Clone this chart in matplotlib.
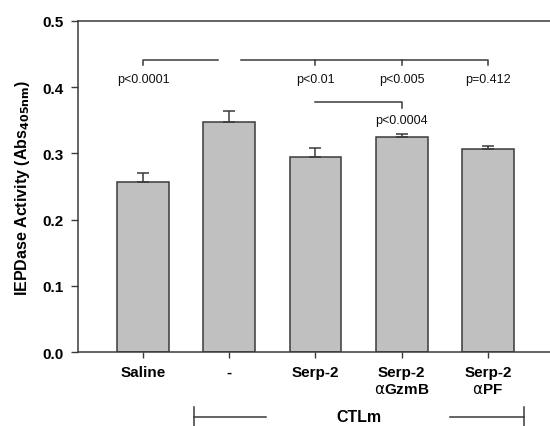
import matplotlib.pyplot as plt
import numpy as np

plt.rcParams['font.family'] = ['Liberation Sans', 'DejaVu Sans']

groups = ['Saline', '-', 'Serp-2', 'Serp-2\n$\\mathrm{\\alpha}$GzmB', 'Serp-2\n$\\mathrm{\\alpha}$PF']
means = [0.257, 0.348, 0.294, 0.325, 0.307]
sem = [0.013, 0.016, 0.014, 0.005, 0.004]
yticks = [0.0, 0.1, 0.2, 0.3, 0.4, 0.5]

dark = '#3a3a3a'
fig = plt.figure(figsize=(5.5, 4.27), dpi=100)
ax = fig.add_axes([0.1418, 0.1733, 0.8582, 0.7752])

x = np.arange(len(groups))
ax.bar(x, means, width=0.6, color='#c0c0c0', edgecolor=dark, linewidth=1.1, zorder=2)
ax.errorbar(x, means, yerr=[np.zeros(len(sem)), sem], fmt='none', ecolor=dark,
            elinewidth=1.1, capsize=4, capthick=1.1, zorder=3)

ax.set_xlim(-0.754, 4.72)
ax.set_ylim(0, 0.5)
ax.set_yticks(yticks)
ax.set_yticklabels(['%.1f' % v for v in yticks], fontsize=11, fontweight='bold')
ax.set_xticks(x)
ax.set_xticklabels(groups, fontsize=11, fontweight='bold', linespacing=1.3)
ax.tick_params(axis='both', direction='out', length=4, width=1, color=dark, pad=5)
ax.tick_params(axis='y', length=5, pad=5)
for s in ['top', 'left', 'bottom']:
    ax.spines[s].set_color(dark)
    ax.spines[s].set_linewidth(1.1)
ax.spines['right'].set_visible(False)
ax.set_ylabel('IEPDase Activity (Abs$_{\\mathbf{405nm}}$)', fontsize=11.5, fontweight='bold')
ax.yaxis.set_label_coords(-0.097, 0.5)

# comparison brackets
lk = dict(color=dark, linewidth=1.1)
yb, tk = 0.441, 0.008
ax.plot([0, 0, 0.87], [yb - tk, yb, yb], **lk)
ax.plot([1.14, 4, 4], [yb, yb, yb - tk], **lk)
ax.plot([2, 2], [yb, yb - tk], **lk)
ax.plot([3, 3], [yb, yb - tk], **lk)
pk = dict(ha='center', va='center', fontsize=9, color='#111111')
ax.text(0, 0.413, 'p<0.0001', **pk)
ax.text(2, 0.413, 'p<0.01', **pk)
ax.text(3, 0.412, 'p<0.005', **pk)
ax.text(4, 0.413, 'p=0.412', **pk)
ax.plot([2, 3, 3], [0.378, 0.378, 0.368], **lk)
ax.text(3, 0.350, 'p<0.0004', **pk)

# CTLm group marker below the axis
tr = ax.get_xaxis_transform()
yc = -0.195
ax.plot([0.59, 1.43], [yc, yc], transform=tr, clip_on=False, **lk)
ax.plot([0.59, 0.59], [yc - 0.028, yc + 0.028], transform=tr, clip_on=False, **lk)
ax.plot([3.56, 4.42], [yc, yc], transform=tr, clip_on=False, **lk)
ax.plot([4.42, 4.42], [yc - 0.028, yc + 0.028], transform=tr, clip_on=False, **lk)
ax.text(2.5, yc, 'CTLm', transform=tr, ha='center', va='center', fontsize=11.5,
        fontweight='bold')

fig.savefig('out.png', dpi=100)
